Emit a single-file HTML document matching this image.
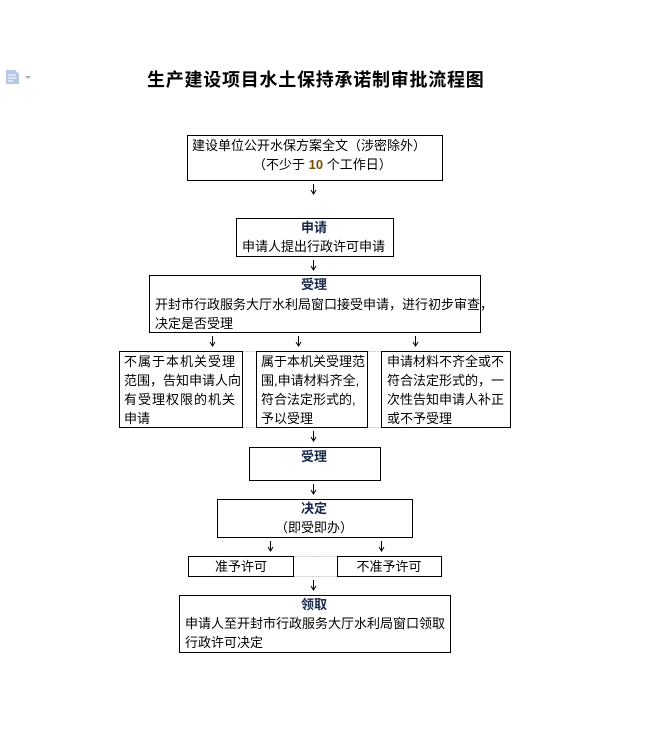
<!DOCTYPE html>
<html><head><meta charset="utf-8"><style>
html,body{margin:0;padding:0;background:#fff;}
svg{display:block;font-family:"Liberation Sans","Noto Sans CJK SC","WenQuanYi Zen Hei",sans-serif;}
text{font-size:13px;fill:#000;}
.h{fill:#1a2a4a;font-weight:bold;}
</style></head><body>
<svg width="647" height="746" viewBox="0 0 647 746" xmlns="http://www.w3.org/2000/svg">
<!-- icon -->
<path d="M6,70 H15 L19,74 V84 H6 Z" fill="#b6c8e6"/>
<path d="M8,75 H16 M8,78 H16 M8,81 H13" stroke="#fff" stroke-width="1"/>
<path d="M25,76 H31 L28,79 Z" fill="#aaa"/>
<text x="147" y="86" style="font-size:18px;font-weight:bold;letter-spacing:0.75px">生产建设项目水土保持承诺制审批流程图</text>

<g fill="none" stroke="#000" stroke-width="1">
<rect x="187.5" y="135.5" width="255" height="45"/>
<rect x="236.5" y="218.5" width="157" height="38"/>
<rect x="149.5" y="275.5" width="331" height="57"/>
<rect x="119.5" y="351.5" width="123" height="76"/>
<rect x="256.5" y="351.5" width="111" height="76"/>
<rect x="381.5" y="351.5" width="129" height="76"/>
<rect x="249.5" y="447.5" width="131" height="33"/>
<rect x="217.5" y="499.5" width="195" height="38"/>
<rect x="188.5" y="556.5" width="105" height="20"/>
<rect x="337.5" y="556.5" width="104" height="20"/>
<rect x="179.5" y="595.5" width="271" height="57"/>
</g>
<g stroke="#ccc" stroke-width="1" stroke-dasharray="2,1">
<line x1="243" y1="351.5" x2="256" y2="351.5"/><line x1="243" y1="427.5" x2="256" y2="427.5"/>
<line x1="368" y1="351.5" x2="381" y2="351.5"/><line x1="368" y1="427.5" x2="381" y2="427.5"/>
<line x1="294" y1="556.5" x2="337" y2="556.5"/><line x1="294" y1="576.5" x2="337" y2="576.5"/>
</g>
<g stroke="#000" stroke-width="1" fill="none">
<path d="M313.5,184 V194 M311,190 L313.5,194 L316,190"/>
<path d="M313.5,260 V270 M311,266 L313.5,270 L316,266"/>
<path d="M212.5,336 V346 M210,342 L212.5,346 L215,342"/>
<path d="M298.5,336 V346 M296,342 L298.5,346 L301,342"/>
<path d="M415.5,336 V346 M413,342 L415.5,346 L418,342"/>
<path d="M313.5,431 V441 M311,437 L313.5,441 L316,437"/>
<path d="M313.5,484 V494 M311,490 L313.5,494 L316,490"/>
<path d="M270.5,541 V551 M268,547 L270.5,551 L273,547"/>
<path d="M381.5,541 V551 M379,547 L381.5,551 L384,547"/>
<path d="M313.5,580 V590 M311,586 L313.5,590 L316,586"/>
</g>

<text x="192" y="150">建设单位公开水保方案全文（涉密除外）</text>
<text x="253" y="169">（不少于 <tspan style="font-weight:bold;fill:#7a4a00">10</tspan> 个工作日）</text>

<text x="314" y="232" text-anchor="middle" class="h">申请</text>
<text x="242" y="251">申请人提出行政许可申请</text>

<text x="314" y="289" text-anchor="middle" class="h">受理</text>
<text x="155" y="309">开封市行政服务大厅水利局窗口接受申请，进行初步审查，</text>
<text x="155" y="328">决定是否受理</text>

<text x="124" y="366" style="letter-spacing:1px">不属于本机关受理</text>
<text x="124" y="385">范围，告知申请人向</text>
<text x="124" y="404" style="letter-spacing:1px">有受理权限的机关</text>
<text x="124" y="423">申请</text>

<text x="261" y="366">属于本机关受理范</text>
<text x="261" y="385">围,申请材料齐全,</text>
<text x="261" y="404">符合法定形式的,</text>
<text x="261" y="423">予以受理</text>

<text x="387" y="366">申请材料不齐全或不</text>
<text x="387" y="385">符合法定形式的，一</text>
<text x="387" y="404">次性告知申请人补正</text>
<text x="387" y="423">或不予受理</text>

<text x="314" y="461" text-anchor="middle" class="h">受理</text>

<text x="314" y="513" text-anchor="middle" class="h">决定</text>
<text x="314" y="532" text-anchor="middle">（即受即办）</text>

<text x="241" y="571" text-anchor="middle">准予许可</text>
<text x="389" y="571" text-anchor="middle">不准予许可</text>

<text x="314" y="609" text-anchor="middle" class="h">领取</text>
<text x="185" y="628">申请人至开封市行政服务大厅水利局窗口领取</text>
<text x="185" y="647">行政许可决定</text>
</svg>
</body></html>
